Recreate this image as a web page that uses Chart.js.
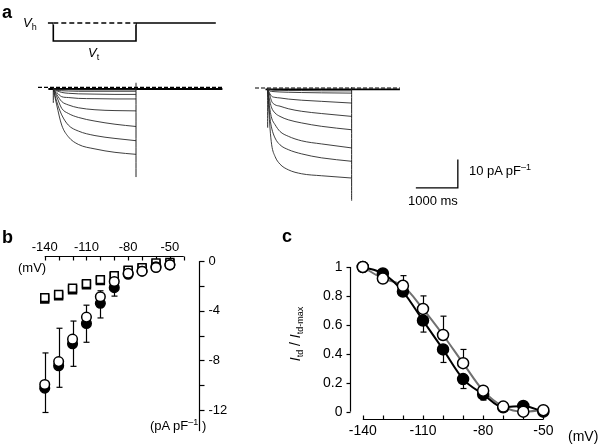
<!DOCTYPE html>
<html>
<head>
<meta charset="utf-8">
<script src="https://cdn.jsdelivr.net/npm/chart.js@4.4.1/dist/chart.umd.min.js"></script>
<style>
body { margin: 0; width: 600px; height: 448px; position: relative; background: #fff; overflow: hidden;
       font-family: "Liberation Sans", Arial, sans-serif; color: #000; }
canvas { position: absolute; }
.t { position: absolute; white-space: nowrap; line-height: 1; font-size: 13px; }
.lbl { font-weight: bold; font-size: 18px; }
.sup { font-size: 9px; position: relative; top: -5px; }
.sub { font-size: 9px; position: relative; top: 3px; }
</style>
</head>
<body>
<canvas id="traceLeft" width="240" height="200" style="left:0px;top:0px"></canvas>
<canvas id="traceRight" width="360" height="160" style="left:240px;top:60px"></canvas>
<canvas id="ivChart" width="240" height="223" style="left:0px;top:225px"></canvas>
<canvas id="ratioChart" width="360" height="223" style="left:240px;top:225px"></canvas>

<div class="t lbl" style="left:2px;top:3px">a</div>
<div class="t" style="left:23px;top:16px"><i>V</i><span class="sub">h</span></div>
<div class="t" style="left:88px;top:46px"><i>V</i><span class="sub">t</span></div>
<div class="t" style="left:469px;top:164px">10 pA pF<span class="sup">–1</span></div>
<div class="t" style="left:408px;top:194px">1000 ms</div>

<div class="t lbl" style="left:2px;top:228px">b</div>
<div class="t" style="left:18px;top:261px">(mV)</div>
<div class="t" style="left:150px;top:419px">(pA pF<span class="sup">–1</span> )</div>

<div class="t lbl" style="left:282px;top:227px">c</div>
<div class="t" style="left:568px;top:429px;font-size:14px">(mV)</div>
<div class="t" style="left:295px;top:334px;font-size:14px;transform:translate(-50%,-50%) rotate(-90deg)"><i>I</i><span class="sub">td</span> / <i>I</i><span class="sub">td-max</span></div>

<script>
// --- panel a: voltage protocol (mV) ---
const protoTimeMs = [-130, 0, 0, 2000, 2000, 3930];
const protoVolt = [-40, -40, -140, -140, -40, -40];

// --- panel a: current traces (pA pF-1), read at these times (ms) ---
const leftTimeMs = [0, 82, 203, 363, 605, 1008, 1492, 2000];
const leftTraces = [
  [-0.6, -6.2, -13.3, -17.4, -20.1, -21.7, -22.9, -23.6],
  [-0.6, -5.0, -9.7, -13.3, -15.4, -17.0, -18.0, -18.8],
  [-0.6, -3.3, -7.4, -9.2, -10.6, -11.9, -13.0, -13.8],
  [-0.6, -2.5, -5.0, -6.2, -7.2, -7.9, -8.2, -8.3],
  [-0.6, -1.8, -3.3, -3.6, -3.9, -4.0, -4.1, -4.1],
  [-0.6, -1.2, -1.8, -2.1, -2.3, -2.4, -2.5, -2.5],
  [-0.6, -1.0, -1.2, -1.3, -1.4, -1.4, -1.4, -1.4],
  [-0.6, -0.7, -0.8, -0.8, -0.9, -0.9, -0.9, -0.9]
];
const rightTimeMs = [0, 55, 95, 175, 293, 491, 810, 1286, 2000];
const rightTraces = [
  [-0.5, -14.1, -20.0, -24.1, -26.8, -28.8, -30.2, -30.9, -31.7],
  [-0.5, -10.6, -14.1, -17.6, -20.0, -21.7, -23.2, -24.6, -25.8],
  [-0.5, -7.7, -10.6, -12.9, -15.3, -17.0, -18.6, -19.7, -21.1],
  [-0.5, -4.9, -7.0, -8.8, -10.0, -11.2, -12.3, -13.5, -14.7],
  [-0.5, -2.8, -4.7, -5.9, -6.4, -7.3, -8.2, -9.0, -10.0],
  [-0.5, -2.1, -2.9, -3.3, -3.5, -3.9, -4.3, -4.7, -5.3],
  [-0.5, -1.1, -1.2, -1.3, -1.4, -1.5, -1.6, -1.7, -1.8],
  [-0.5, -0.6, -0.7, -0.8, -0.8, -0.9, -0.9, -1.0, -1.0]
];
// holding level, capacitive spikes
const leftHold = -0.6, rightHold = -0.5;
const leftSpikes = [[0, -5.5], [2000, 1.6], [2000, -31.6]];
const rightSpikes = [[0, -14], [2000, 0.3], [2000, -39.7]];
// scale bar: 1000 ms x 10 pA pF-1
const scaleBarMs = [3530, 4530, 4530];
const scaleBarCurrent = [-35.2, -35.2, -25.2];

// --- panel b: current density vs voltage ---
const voltages = [-140, -130, -120, -110, -100, -90, -80, -70, -60, -50];
const bSquareFilled = [-3.05, -2.8, -2.3, -1.9, -1.57, -1.25, -0.8, -0.6, -0.25, -0.2];
const bSquareOpen = [-2.94, -2.69, -2.19, -1.81, -1.49, -1.18, -0.73, -0.53, -0.15, -0.1];
const bCircleFilled = [-10.24, -8.43, -6.66, -5.03, -3.40, -2.14, -1.06, -0.81, -0.45, -0.30];
const bCircleOpen = [-9.94, -8.10, -6.29, -4.51, -2.87, -1.64, -0.98, -0.81, -0.51, -0.30];
const bFilledErrLow = [-12.2, -10.17, -8.48, -6.54, -4.58, -2.82, null, null, null, null];
const bOpenErrHigh = [-7.4, -5.41, -4.83, -3.55, -2.39, null, null, null, null, null];
const bXTicks = [-140, -130, -120, -110, -100, -90, -80, -70, -60, -50, -40];
const bXLabels = [-140, -110, -80, -50];
const bYTicks = [0, -2, -4, -6, -8, -10, -12];
const bYLabels = [0, -4, -8, -12];

// --- panel c: normalised Itd vs voltage ---
const cFilled = [1.0, 0.955, 0.83, 0.63, 0.43, 0.225, 0.12, 0.03, 0.04, 0.0];
const cOpen = [1.0, 0.92, 0.87, 0.71, 0.53, 0.335, 0.145, 0.035, 0.0, 0.01];
const cFilledErrLow = [null, null, null, 0.55, 0.34, 0.16, 0.08, null, null, null];
const cOpenErrHigh = [null, null, 0.94, 0.80, 0.66, 0.43, null, null, null, null];
const cXTicks = [-140, -130, -120, -110, -100, -90, -80, -70, -60, -50];
const cXLabels = [-140, -110, -80, -50];
const cYTicks = [0, 0.2, 0.4, 0.6, 0.8, 1];

const pts = (xs, ys) => xs.map((x, i) => ({ x: x, y: ys[i] }));

// draws offset axes and error bars through the chart scales
const sciPlugin = {
  id: 'sci',
  beforeDatasetsDraw(chart, args, opts) {
    const ctx = chart.ctx, xs = chart.scales.x, ys = chart.scales.y;
    const seg = (x0, y0, x1, y1) => { ctx.beginPath(); ctx.moveTo(x0, y0); ctx.lineTo(x1, y1); ctx.stroke(); };
    ctx.save();
    ctx.strokeStyle = '#000';
    ctx.fillStyle = '#000';
    ctx.lineWidth = 1.2;
    (opts.errBars || []).forEach(e => {
      const ds = chart.data.datasets[e.dataset];
      e.ends.forEach((end, i) => {
        if (end === null) return;
        const p = ds.data[i];
        const px = Math.round(xs.getPixelForValue(p.x)) + 0.5;
        const y0 = ys.getPixelForValue(p.y), y1 = ys.getPixelForValue(end);
        seg(px, y0, px, y1);
        seg(px - e.cap, y1, px + e.cap, y1);
      });
    });
    (opts.axes || []).forEach(a => {
      ctx.font = a.font;
      if (a.dir === 'x') {
        const y = Math.round(ys.getPixelForValue(a.at)) + 0.5;
        seg(xs.getPixelForValue(a.from), y, xs.getPixelForValue(a.to), y);
        a.ticks.forEach(v => { const x = Math.round(xs.getPixelForValue(v)) + 0.5; seg(x, y, x, y + a.tickLen); });
        ctx.textAlign = 'center';
        ctx.textBaseline = 'middle';
        a.labels.forEach(v => ctx.fillText(String(v), xs.getPixelForValue(v), y + a.labelOffset));
      } else {
        const x = Math.round(xs.getPixelForValue(a.at)) + 0.5;
        seg(x, ys.getPixelForValue(a.from), x, ys.getPixelForValue(a.to));
        a.ticks.forEach(v => { const y = Math.round(ys.getPixelForValue(v)) + 0.5; seg(x, y, x + a.tickLen, y); });
        ctx.textAlign = a.labelOffset < 0 ? 'right' : 'left';
        ctx.textBaseline = 'middle';
        a.labels.forEach(v => ctx.fillText(String(v), x + a.labelOffset, ys.getPixelForValue(v)));
      }
    });
    ctx.restore();
  }
};

function baseOptions(xmin, xmax, ymin, ymax, sci) {
  return {
    responsive: false,
    animation: false,
    events: [],
    layout: { padding: 0 },
    plugins: { legend: { display: false }, tooltip: { enabled: false }, sci: sci || {} },
    scales: {
      x: { type: 'linear', display: false, min: xmin, max: xmax },
      y: { type: 'linear', display: false, min: ymin, max: ymax }
    }
  };
}

// later datasets are painted on top
function stackOrder(sets) {
  sets.forEach((s, i) => { s.order = sets.length - i; });
  return sets;
}

function lineSet(data, color, width, extra) {
  return Object.assign({
    data: data, borderColor: color, borderWidth: width, pointRadius: 0,
    fill: false, cubicInterpolationMode: 'monotone'
  }, extra || {});
}

function traceSets(times, traces, hold, zeroFrom, zeroTo, spikes) {
  const sets = [];
  sets.push(lineSet(pts([zeroFrom + 250, zeroTo], [hold, hold]), '#000', 1.8));
  traces.forEach(tr => sets.push(lineSet(pts(times, tr), '#2a2a2a', 0.9)));
  sets.push(lineSet(pts([spikes[0][0], spikes[0][0]], [0, spikes[0][1]]), '#222', 1));
  sets.push(lineSet(pts([spikes[1][0], spikes[2][0]], [spikes[1][1], spikes[2][1]]), '#222', 1));
  sets.push(lineSet(pts([zeroFrom, zeroTo], [0, 0]), '#000', 1.2, { borderDash: [4, 2] }));
  return sets;
}

// left trace set + voltage protocol
const leftOpts = baseOptions(-1289, 4515, -39.68, 30.74);
leftOpts.scales.yV = { type: 'linear', display: false, min: -1023.4, max: 87.8 };
const leftSets = traceSets(leftTimeMs, leftTraces, leftHold, -370, 4090, leftSpikes);
leftSets.push(lineSet(pts(protoTimeMs, protoVolt), '#000', 1.6, { yAxisID: 'yV', cubicInterpolationMode: 'default', tension: 0 }));
leftSets.push(lineSet(pts([0, 2000], [-40, -40]), '#fff', 3, { yAxisID: 'yV' }));
leftSets.push(lineSet(pts([0, 2000], [-40, -40]), '#000', 1.6, { yAxisID: 'yV', borderDash: [5, 3] }));
new Chart(document.getElementById('traceLeft'), {
  type: 'line',
  data: { datasets: stackOrder(leftSets) },
  options: leftOpts
});

// right trace set + scale bar
const rightSets = traceSets(rightTimeMs, rightTraces, rightHold, -302, 3150, rightSpikes);
rightSets.push(lineSet(pts(scaleBarMs, scaleBarCurrent), '#000', 1.3, { cubicInterpolationMode: 'default', tension: 0 }));
new Chart(document.getElementById('traceRight'), {
  type: 'line',
  data: { datasets: stackOrder(rightSets) },
  options: baseOptions(-659.5, 7916.7, -46.48, 9.86)
});

// panel b
function markerSet(xs, ys, style, radius, bg) {
  return {
    data: pts(xs, ys), showLine: false, pointStyle: style, pointRadius: radius,
    pointBackgroundColor: bg, pointBorderColor: '#000', pointBorderWidth: 1.5
  };
}
new Chart(document.getElementById('ivChart'), {
  type: 'scatter',
  data: {
    datasets: stackOrder([
      markerSet(voltages, bSquareFilled, 'rect', 5.6, '#000'),
      markerSet(voltages, bSquareOpen, 'rect', 5.6, '#fff'),
      markerSet(voltages, bCircleFilled, 'circle', 4.8, '#000'),
      markerSet(voltages, bCircleOpen, 'circle', 4.8, '#fff')
    ])
  },
  options: baseOptions(-167.06, -4.68, -14.49, 2.34, {
    errBars: [
      { dataset: 2, ends: bFilledErrLow, cap: 3 },
      { dataset: 3, ends: bOpenErrHigh, cap: 3 }
    ],
    axes: [
      { dir: 'x', at: 0.45, from: -140, to: -40, ticks: bXTicks, tickLen: 4, labels: bXLabels, labelOffset: -9, font: '13px "Liberation Sans"' },
      { dir: 'y', at: -29.0, from: 0, to: -13.7, ticks: bYTicks, tickLen: 5, labels: bYLabels, labelOffset: 9, font: '13px "Liberation Sans"' }
    ]
  }),
  plugins: [sciPlugin]
});

// panel c
new Chart(document.getElementById('ratioChart'), {
  type: 'line',
  data: {
    datasets: stackOrder([
      lineSet(pts(voltages, cOpen), '#707070', 2),
      Object.assign(lineSet(pts(voltages, cFilled), '#000', 2), {
        pointRadius: 5.5, pointBackgroundColor: '#000', pointBorderColor: '#000', pointBorderWidth: 1.5
      }),
      Object.assign(markerSet(voltages, cOpen, 'circle', 5.5, '#fff'), { borderWidth: 0 })
    ])
  },
  options: baseOptions(-197.74, -25.24, -0.2027, 1.2416, {
    errBars: [
      { dataset: 1, ends: cFilledErrLow, cap: 3 },
      { dataset: 2, ends: cOpenErrHigh, cap: 3 }
    ],
    axes: [
      { dir: 'y', at: -146.5, from: 0, to: 1, ticks: cYTicks, tickLen: -4, labels: [0, 0.2, 0.4, 0.6, 0.8, 1], labelOffset: -8, font: '14px "Liberation Sans"' },
      { dir: 'x', at: -0.054, from: -140, to: -50, ticks: cXTicks, tickLen: -4, labels: cXLabels, labelOffset: 12, font: '14px "Liberation Sans"' }
    ]
  }),
  plugins: [sciPlugin]
});
</script>
</body>
</html>
